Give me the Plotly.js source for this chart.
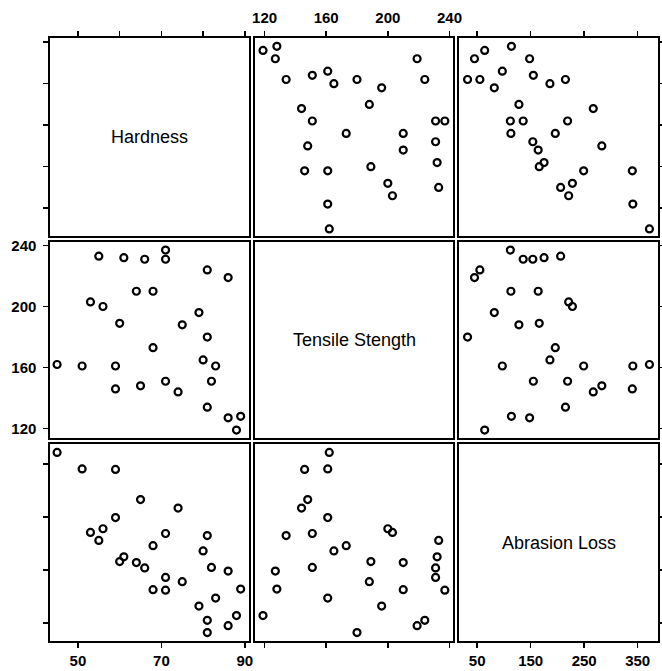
<!DOCTYPE html>
<html>
<head>
<meta charset="utf-8">
<script src="https://cdn.plot.ly/plotly-3.0.1.min.js"></script>
<style>html,body{margin:0;padding:0;background:#fff;}#chart{width:662px;height:671px;}</style>
</head>
<body>
<div id="chart"></div>
<script>
// Rubber data (30 specimens)
const hardness = [45,55,61,66,71,71,81,86,53,60,64,68,79,81,56,68,75,83,88,59,71,80,82,89,51,59,65,74,81,86];
const tensile  = [162,233,232,231,231,237,224,219,203,189,210,210,196,180,200,173,188,161,119,161,151,165,151,128,161,146,148,144,134,127];
const loss     = [372,206,175,154,136,112,55,45,221,166,164,113,82,32,228,196,128,97,64,249,219,186,155,114,341,340,283,267,215,148];

const varNames = ["Hardness", "Tensile Stength", "Abrasion Loss"];
const hardnessTicks = [50,60,70,80,90];
const hardnessLabelTicks = [50,70,90];
const tensileTicks = [120,160,200,240];
const lossTicks = [50,150,250,350];

const vars = [hardness, tensile, loss];
const ranges = [[43.3, 91.0], [113.8, 242.3], [16, 388]];
const W = 662, H = 671;
const colPx = [[50,249],[255,453],[459,658]];
const rowPx = [[38,236],[242,438],[444,641]];
const colDom = colPx.map(p => [p[0]/W, p[1]/W]);
const rowDom = rowPx.map(p => [1 - p[1]/H, 1 - p[0]/H]);

const topTicks = [hardnessTicks, tensileTicks, lossTicks];
const bottomTicks = [hardnessLabelTicks, tensileTicks, lossTicks];
const sideTicks = [hardnessTicks, tensileTicks, lossTicks];

const tickFont = {family: "Liberation Sans, Arial, sans-serif", size: 15, color: "#000", weight: "bold"};

const traces = [];
const layout = {
  width: W, height: H,
  margin: {l:0, r:0, t:0, b:0},
  paper_bgcolor: "#fff", plot_bgcolor: "#fff",
  showlegend: false,
  annotations: []
};

for (let r = 0; r < 3; r++) {
  for (let c = 0; c < 3; c++) {
    const k = r*3 + c + 1;
    const xn = "xaxis" + (k === 1 ? "" : k);
    const yn = "yaxis" + (k === 1 ? "" : k);
    const xs = "x" + (k === 1 ? "" : k);
    const ys = "y" + (k === 1 ? "" : k);
    const xa = {
      domain: colDom[c], range: ranges[c], anchor: ys,
      showgrid: false, zeroline: false, showline: true, mirror: true,
      linecolor: "#000", linewidth: 1.6, tickfont: tickFont,
      tickmode: "array", ticklen: 5, tickwidth: 1.5, tickcolor: "#000",
      fixedrange: true
    };
    if (r === 0) {
      xa.side = "top"; xa.ticks = "outside"; xa.tickvals = topTicks[c];
      xa.ticktext = topTicks[c].map(String);
      xa.showticklabels = (c === 1); xa.ticklabelstandoff = 2;
    } else if (r === 2) {
      xa.side = "bottom"; xa.ticks = "outside"; xa.tickvals = bottomTicks[c];
      xa.ticktext = bottomTicks[c].map(String);
      xa.showticklabels = (c !== 1); xa.ticklabelstandoff = 0;
    } else {
      xa.ticks = ""; xa.showticklabels = false;
    }
    const ya = {
      domain: rowDom[r], range: ranges[r], anchor: xs,
      showgrid: false, zeroline: false, showline: true, mirror: true,
      linecolor: "#000", linewidth: 1.6, tickfont: tickFont,
      tickmode: "array", ticklen: 5, tickwidth: 1.5, tickcolor: "#000",
      fixedrange: true
    };
    if (c === 0) {
      ya.side = "left"; ya.ticks = "outside"; ya.tickvals = sideTicks[r];
      ya.ticktext = sideTicks[r].map(String);
      ya.showticklabels = (r === 1); ya.ticklabelstandoff = 4;
    } else if (c === 2) {
      ya.side = "right"; ya.ticks = "outside"; ya.tickvals = sideTicks[r];
      ya.showticklabels = false;
    } else {
      ya.ticks = ""; ya.showticklabels = false;
    }
    layout[xn] = xa;
    layout[yn] = ya;

    if (r === c) {
      layout.annotations.push({
        xref: xs + " domain", yref: ys + " domain", x: 0.5, y: 0.5,
        text: varNames[r], showarrow: false,
        font: {family: "Liberation Sans, Arial, sans-serif", size: 18, color: "#000"}
      });
      traces.push({x: [], y: [], xaxis: xs, yaxis: ys, type: "scatter", mode: "markers"});
    } else {
      traces.push({
        x: vars[c], y: vars[r], xaxis: xs, yaxis: ys,
        type: "scatter", mode: "markers", hoverinfo: "skip",
        marker: {symbol: "circle-open", size: 7, color: "#000", line: {width: 2.2, color: "#000"}}
      });
    }
  }
}

Plotly.newPlot("chart", traces, layout, {staticPlot: true});
</script>
</body>
</html>
